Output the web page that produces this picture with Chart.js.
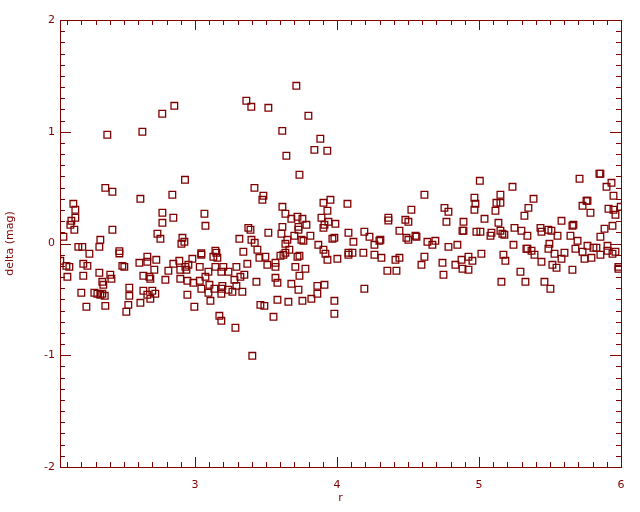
<!DOCTYPE html>
<html>
<head>
<meta charset="utf-8">
<script src="https://cdn.jsdelivr.net/npm/chart.js@4.4.1/dist/chart.umd.min.js"></script>
<style>
  html, body { margin: 0; padding: 0; background: #fff; }
  #wrap { width: 640px; height: 512px; }
</style>
</head>
<body>
<div id="wrap"><canvas id="plot" width="640" height="512"></canvas></div>
<script>
// values, r on x, delta (mag) on y
const rValues = [
  // 2 < r < 3
  2.930, 2.369, 2.419, 2.841, 2.616, 2.144, 2.158, 2.771, 2.158, 2.848,
  2.130, 2.123, 2.771, 2.151, 2.419, 2.736, 2.757, 2.074, 2.334, 2.912,
  2.926, 2.905, 2.179, 2.207, 2.327, 2.468, 2.468, 2.257, 2.665, 2.665,
  2.728, 2.982, 2.890, 2.052, 2.095, 2.116, 2.214, 2.243, 2.489, 2.503,
  2.609, 2.848, 2.933, 2.954, 2.897, 2.940, 2.714, 2.813, 2.327, 2.102,
  2.214, 2.404, 2.412, 2.637, 2.679, 2.686, 2.792, 2.897, 2.947, 2.989,
  2.348, 2.355, 2.538, 2.200, 2.292, 2.313, 2.334, 2.348, 2.365, 2.538,
  2.637, 2.665, 2.700, 2.721, 2.686, 2.947, 2.616, 2.531, 2.369, 2.236,
  2.996, 2.517,
  // 3 < r < 4
  3.736, 3.419, 3.482, 3.475, 3.905, 3.954, 3.616, 3.933, 3.637, 3.067,
  3.679, 3.722, 3.757, 3.891, 3.785, 3.940, 3.989, 3.912, 3.905, 3.729,
  3.729, 3.616, 3.074, 3.376, 3.391, 3.517, 3.609, 3.700, 3.813, 3.313,
  3.398, 3.421, 3.651, 3.750, 3.764, 3.968, 3.982, 3.869, 3.637, 3.440,
  3.341, 3.665, 3.905, 3.919, 3.144, 3.151, 3.045, 3.045, 3.130, 3.158,
  3.602, 3.623, 3.637, 3.722, 3.736, 3.454, 3.496, 3.933, 4.003, 3.369,
  3.510, 3.567, 3.567, 3.034, 3.144, 3.200, 3.292, 3.707, 3.778, 3.095,
  3.186, 3.236, 3.074, 3.320, 3.348, 3.736, 3.567, 3.278, 3.034, 3.433,
  3.581, 3.102, 3.193, 3.292, 3.679, 3.862, 3.912, 3.045, 3.137, 3.186,
  3.236, 3.729, 3.095, 3.186, 3.264, 3.334, 3.862, 3.109, 3.581, 3.658,
  3.757, 3.820, 3.982, 3.461, 3.489, 3.982, 3.553, 3.172, 3.186, 3.285,
  // 4 < r < 5
  4.616, 4.074, 4.968, 4.975, 4.968, 4.524, 4.757, 4.785, 4.362, 4.362,
  4.482, 4.503, 4.771, 4.891, 4.081, 4.193, 4.229, 4.440, 4.884, 4.891,
  4.982, 4.116, 4.264, 4.299, 4.306, 4.489, 4.503, 4.553, 4.560, 4.637,
  4.672, 4.693, 4.785, 4.848, 4.081, 4.081, 4.109, 4.186, 4.264, 4.313,
  4.412, 4.440, 4.616, 4.595, 4.743, 4.834, 4.877, 4.926, 4.954, 4.884,
  4.926, 4.355, 4.419, 4.750, 4.193,
  // 5 < r < 6
  5.006, 5.236, 5.151, 5.123, 5.151, 5.116, 5.384, 5.348, 5.320, 5.039,
  5.137, 5.010, 5.088, 5.081, 5.151, 5.165, 5.179, 5.250, 5.299, 5.341,
  5.433, 5.440, 5.489, 5.510, 5.553, 5.581, 5.708, 5.848, 5.855, 5.933,
  5.898, 5.947, 5.757, 5.764, 5.729, 5.785, 5.912, 5.947, 5.961, 5.998,
  5.658, 5.665, 5.644, 5.694, 5.884, 5.940, 5.855, 5.017, 5.243, 5.172,
  5.186, 5.334, 5.341, 5.370, 5.391, 5.496, 5.489, 5.532, 5.602, 5.581,
  5.440, 5.517, 5.546, 5.679, 5.729, 5.764, 5.806, 5.827, 5.743, 5.792,
  5.855, 5.905, 5.905, 5.940, 5.961, 5.658, 5.292, 5.982, 5.982, 5.158,
  5.327, 5.461, 5.503,
  // outliers
  2.383, 2.630, 2.770, 2.855, 3.362, 3.397, 3.517, 3.714, 3.799, 3.615,
  3.883, 3.841, 3.932, 3.644, 3.404
];

const deltaValues = [
  // 2 < r < 3
  0.570, 0.498, 0.463, 0.436, 0.400, 0.355, 0.302, 0.275, 0.230, 0.230,
  0.203, 0.167, 0.185, 0.123, 0.123, 0.087, 0.042, 0.060, 0.033, 0.051,
  0.015, -0.003, -0.030, -0.030, -0.030, -0.068, -0.089, -0.092, -0.119, -0.164,
  -0.146, -0.137, -0.155, -0.155, -0.200, -0.209, -0.182, -0.200, -0.200, -0.209,
  -0.173, -0.182, -0.209, -0.191, -0.235, -0.235, -0.235, -0.244, -0.262, -0.298,
  -0.289, -0.280, -0.316, -0.289, -0.298, -0.316, -0.325, -0.316, -0.334, -0.352,
  -0.343, -0.370, -0.396, -0.441, -0.441, -0.450, -0.459, -0.450, -0.468, -0.468,
  -0.423, -0.459, -0.423, -0.450, -0.495, -0.459, -0.531, -0.549, -0.558, -0.566,
  -0.566, -0.611,
  // 3 < r < 4
  0.615, 0.498, 0.427, 0.391, 0.364, 0.391, 0.328, 0.293, 0.266, 0.266,
  0.221, 0.239, 0.221, 0.230, 0.167, 0.194, 0.176, 0.167, 0.140, 0.149,
  0.123, 0.149, 0.158, 0.140, 0.123, 0.096, 0.087, 0.069, 0.069, 0.042,
  0.033, 0.006, 0.033, 0.033, 0.024, 0.042, 0.051, -0.012, -0.003, -0.056,
  -0.074, -0.056, -0.056, -0.092, -0.065, -0.083, -0.088, -0.100, -0.119, -0.128,
  -0.110, -0.101, -0.083, -0.119, -0.110, -0.128, -0.119, -0.146, -0.137, -0.182,
  -0.191, -0.173, -0.209, -0.209, -0.209, -0.209, -0.209, -0.209, -0.226, -0.253,
  -0.253, -0.253, -0.298, -0.298, -0.280, -0.289, -0.307, -0.325, -0.334, -0.343,
  -0.352, -0.370, -0.379, -0.379, -0.361, -0.379, -0.370, -0.405, -0.405, -0.405,
  -0.414, -0.414, -0.441, -0.450, -0.432, -0.432, -0.450, -0.513, -0.504, -0.522,
  -0.513, -0.495, -0.513, -0.549, -0.558, -0.629, -0.656, -0.647, -0.692, -0.754,
  // 4 < r < 5
  0.436, 0.355, 0.409, 0.355, 0.302, 0.302, 0.319, 0.284, 0.230, 0.206,
  0.212, 0.194, 0.194, 0.194, 0.096, 0.105, 0.060, 0.114, 0.114, 0.114,
  0.105, 0.015, -0.012, 0.024, 0.033, 0.051, 0.033, 0.069, 0.060, 0.015,
  -0.012, 0.024, -0.030, -0.012, -0.083, -0.101, -0.083, -0.083, -0.101, -0.128,
  -0.146, -0.128, -0.119, -0.191, -0.173, -0.191, -0.146, -0.119, -0.155, -0.226,
  -0.235, -0.244, -0.244, -0.280, -0.405,
  // 5 < r < 6
  0.561, 0.507, 0.436, 0.364, 0.364, 0.293, 0.400, 0.319, 0.248, 0.221,
  0.185, 0.105, 0.096, 0.069, 0.114, 0.087, 0.078, 0.140, 0.114, 0.069,
  0.140, 0.105, 0.123, 0.114, 0.069, 0.203, 0.579, 0.624, 0.624, 0.543,
  0.507, 0.427, 0.382, 0.382, 0.337, 0.275, 0.311, 0.302, 0.257, 0.328,
  0.158, 0.167, 0.069, 0.024, 0.132, 0.158, 0.060, -0.092, -0.012, -0.101,
  -0.155, -0.047, -0.047, -0.065, -0.101, -0.003, -0.047, -0.092, -0.083, -0.137,
  -0.164, -0.191, -0.217, -0.047, -0.074, -0.021, -0.038, -0.038, -0.137, -0.128,
  -0.101, -0.021, -0.065, -0.092, -0.074, -0.235, -0.253, -0.209, -0.226, -0.343,
  -0.343, -0.343, -0.405,
  // outliers
  0.973, 1.000, 1.161, 1.232, 1.277, 1.223, 1.214, 1.411, 1.143, 1.008,
  0.937, 0.838, 0.830, 0.785, -1.005
];

const xTickValues = [3, 4, 5, 6];
const yTickValues = [-2, -1, 0, 1, 2];

const INK = '#7f0000';
const FONT = { family: 'DejaVu Sans', size: 11 };

const points = rValues.map((r, i) => ({ x: r, y: deltaValues[i] }));

// IDL style: box round the plot, ticks pointing inwards on all four sides
const idlFrame = {
  id: 'idlFrame',
  afterDatasetsDraw(chart) {
    const { ctx, chartArea: a, scales } = chart;
    const x = scales.x, y = scales.y;
    ctx.save();
    ctx.strokeStyle = INK;
    ctx.lineWidth = 1;
    ctx.strokeRect(a.left + 0.5, a.top + 0.5, a.right - a.left, a.bottom - a.top);
    ctx.beginPath();
    for (let i = 21; i <= 60; i++) {
      const px = Math.round(x.getPixelForValue(i / 10)) + 0.5;
      const len = i % 10 === 0 ? 10 : 5;
      ctx.moveTo(px, a.bottom); ctx.lineTo(px, a.bottom - len);
      ctx.moveTo(px, a.top); ctx.lineTo(px, a.top + len);
    }
    for (let i = -19; i <= 19; i++) {
      const py = Math.round(y.getPixelForValue(i / 10)) + 0.5;
      const len = i % 10 === 0 ? 11 : 5;
      ctx.moveTo(a.left, py); ctx.lineTo(a.left + len, py);
      ctx.moveTo(a.right, py); ctx.lineTo(a.right - len, py);
    }
    ctx.stroke();
    ctx.restore();
  }
};

new Chart(document.getElementById('plot'), {
  type: 'scatter',
  data: {
    datasets: [{
      data: points,
      pointStyle: 'rect',
      pointRadius: 4.7,
      pointBorderWidth: 1.3,
      borderColor: INK,
      backgroundColor: 'rgba(0,0,0,0)'
    }]
  },
  options: {
    responsive: false,
    animation: false,
    layout: { padding: { top: 20, right: 19, left: 0, bottom: 0 } },
    plugins: { legend: { display: false }, tooltip: { enabled: false } },
    scales: {
      x: {
        type: 'linear',
        min: 2.05,
        max: 6,
        afterBuildTicks: (s) => { s.ticks = xTickValues.map(v => ({ value: v })); },
        afterFit: (s) => { s.height = 45; },
        grid: { display: false, drawTicks: false },
        border: { display: false },
        ticks: { color: INK, font: FONT, padding: 12, maxRotation: 0 },
        title: { display: true, text: 'r', color: INK, font: FONT, padding: { top: 0, bottom: 7 } }
      },
      y: {
        type: 'linear',
        min: -2,
        max: 2,
        afterBuildTicks: (s) => { s.ticks = yTickValues.map(v => ({ value: v })); },
        afterFit: (s) => { s.width = 60; },
        grid: { display: false, drawTicks: false },
        border: { display: false },
        ticks: { color: INK, font: FONT, padding: 5 },
        title: { display: true, text: 'delta (mag)', color: INK, font: FONT, padding: { top: 4, bottom: 0 } }
      }
    }
  },
  plugins: [idlFrame]
});
</script>
</body>
</html>
